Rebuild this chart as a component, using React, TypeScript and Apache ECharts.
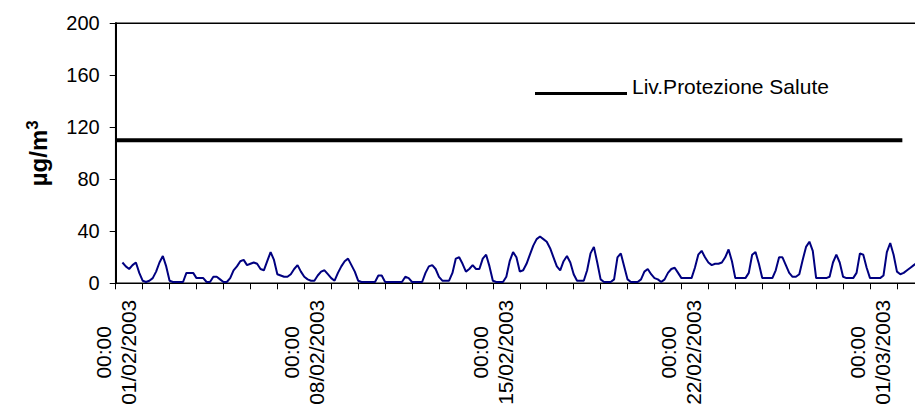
import React, { useEffect, useRef } from "react";
import * as echarts from "echarts";

// Ozone concentrations sampled every 3 hours (µg/m³),
// starting at 06:00 on 01/02/2003.
const startHour = 6;
const stepHours = 3;
const concentrations: number[] = [
  // 01/02 (06:00 .. 21:00)
  16, 13, 11, 14, 16, 8,
  // 02/02
  2, 1, 2, 4, 9, 16, 21, 13,
  // 03/02
  2, 1, 1, 1, 1, 8, 8, 8,
  // 04/02
  4, 4, 4, 1, 1, 5, 5, 3,
  // 05/02
  1, 1, 4, 10, 13, 17, 18, 14,
  // 06/02
  15, 16, 15, 11, 10, 17, 24, 18,
  // 07/02
  7, 6, 5, 5, 7, 11, 14, 9,
  // 08/02
  5, 3, 2, 2, 6, 9, 10, 7,
  // 09/02
  4, 2, 8, 13, 17, 19, 14, 9,
  // 10/02
  2, 1, 1, 1, 1, 1, 6, 6,
  // 11/02
  1, 1, 1, 1, 1, 1, 5, 4,
  // 12/02
  1, 1, 1, 1, 8, 13, 14, 11,
  // 13/02
  5, 2, 2, 2, 8, 19, 20, 15,
  // 14/02
  9, 11, 14, 11, 11, 19, 22, 13,
  // 15/02
  2, 1, 1, 1, 5, 17, 24, 20,
  // 16/02
  9, 10, 15, 22, 29, 34, 36, 34,
  // 17/02
  32, 27, 20, 13, 10, 17, 21, 16,
  // 18/02
  7, 2, 2, 2, 10, 23, 28, 16,
  // 19/02
  3, 1, 1, 1, 3, 20, 23, 13,
  // 20/02
  3, 1, 1, 1, 3, 9, 11, 7,
  // 21/02
  4, 3, 1, 3, 8, 11, 12, 8,
  // 22/02
  4, 4, 4, 4, 12, 22, 25, 20,
  // 23/02
  16, 14, 15, 15, 16, 20, 26, 17,
  // 24/02
  4, 4, 4, 4, 8, 22, 24, 15,
  // 25/02
  4, 4, 4, 4, 10, 20, 20, 14,
  // 26/02
  8, 5, 5, 7, 18, 28, 32, 25,
  // 27/02
  4, 4, 4, 4, 5, 16, 22, 16,
  // 28/02
  5, 4, 4, 4, 8, 23, 22, 12,
  // 01/03
  4, 4, 4, 4, 6, 24, 31, 22,
  // 02/03
  9, 7, 8, 10, 12, 14, 16,
];

// Health-protection threshold line (days from 01/02/2003 00:00)
const limitDays = [0, 29.2];
const limitValues = [110, 110];
const limitName = "Liv.Protezione Salute";

// Axis labels every 7 days
const weekLabelDates = ["01/02/2003", "08/02/2003", "15/02/2003", "22/02/2003", "01/03/2003"];
const weekLabelTime = "00:00";

const FONT = "'Liberation Sans', Arial, sans-serif";

// Legend key: a thick bar sitting in the lower part of its box,
// so that it lines up with the text baseline
const legendKey = "path://M0,0 L0,0 M0,14 L92,14 L92,17 L0,17 Z";

export default function App() {
  const ref = useRef<HTMLDivElement>(null);

  useEffect(() => {
    if (!ref.current) return;
    const chart = echarts.init(ref.current, null, { renderer: "svg" });

    const ozoneData = concentrations.map((v, i) => [(startHour + i * stepHours) / 24, v]);
    const limitData = limitDays.map((d, i) => [d, limitValues[i]]);

    chart.setOption({
      animation: false,
      backgroundColor: "#ffffff",
      grid: {
        left: 115.7,
        top: 23.3,
        right: -8.9,
        bottom: 125.7,
        show: true,
        borderColor: "#000000",
        borderWidth: 1.5,
        containLabel: false,
        outerBoundsMode: "none",
      },
      legend: {
        data: [limitName],
        left: 535,
        top: 76,
        padding: 0,
        icon: legendKey,
        itemWidth: 92,
        itemHeight: 17,
        textStyle: {
          fontFamily: FONT,
          fontSize: 21,
          color: "#000000",
        },
      },
      xAxis: {
        type: "value",
        min: 0,
        max: 30,
        interval: 1,
        splitLine: { show: false },
        axisLine: { show: true, lineStyle: { color: "#000000", width: 1 } },
        axisTick: { show: true, length: 6, lineStyle: { color: "#000000", width: 1 } },
        axisLabel: {
          rotate: 90,
          align: "center",
          margin: 69,
          fontFamily: FONT,
          fontSize: 21,
          lineHeight: 25,
          color: "#000000",
          showMinLabel: true,
          showMaxLabel: true,
          formatter: (v: number) => {
            const d = Math.round(v);
            if (d % 7 !== 0) return "";
            const date = weekLabelDates[d / 7];
            return date ? `${weekLabelTime}\n${date}` : "";
          },
        },
      },
      yAxis: {
        type: "value",
        min: 0,
        max: 200,
        interval: 40,
        splitLine: { show: false },
        axisLine: { show: true, lineStyle: { color: "#000000", width: 2 } },
        axisTick: { show: true, length: 6, lineStyle: { color: "#000000", width: 1 } },
        axisLabel: {
          margin: 16,
          fontFamily: FONT,
          fontSize: 20,
          color: "#000000",
        },
        name: "{a|µg/m}{b|3}",
        nameLocation: "middle",
        nameRotate: 90,
        nameGap: 62,
        nameTextStyle: {
          rich: {
            a: { fontFamily: FONT, fontSize: 24, fontWeight: "bold", color: "#000000", lineHeight: 30 },
            b: { fontFamily: FONT, fontSize: 17, fontWeight: "bold", color: "#000000", verticalAlign: "top", lineHeight: 30 },
          },
        },
      },
      series: [
        {
          name: limitName,
          type: "line",
          data: limitData,
          showSymbol: false,
          symbol: "none",
          lineStyle: { color: "#000000", width: 4 },
          itemStyle: { color: "#000000" },
          silent: true,
        },
        {
          name: "Ozono",
          type: "line",
          data: ozoneData,
          showSymbol: false,
          symbol: "none",
          lineStyle: { color: "#000080", width: 2 },
          itemStyle: { color: "#000080" },
          silent: true,
        },
      ],
    });

    return () => chart.dispose();
  }, []);

  return (
    <div
      ref={ref}
      style={{ position: "fixed", left: 0, top: 0, width: 915, height: 409, background: "#ffffff" }}
    />
  );
}
